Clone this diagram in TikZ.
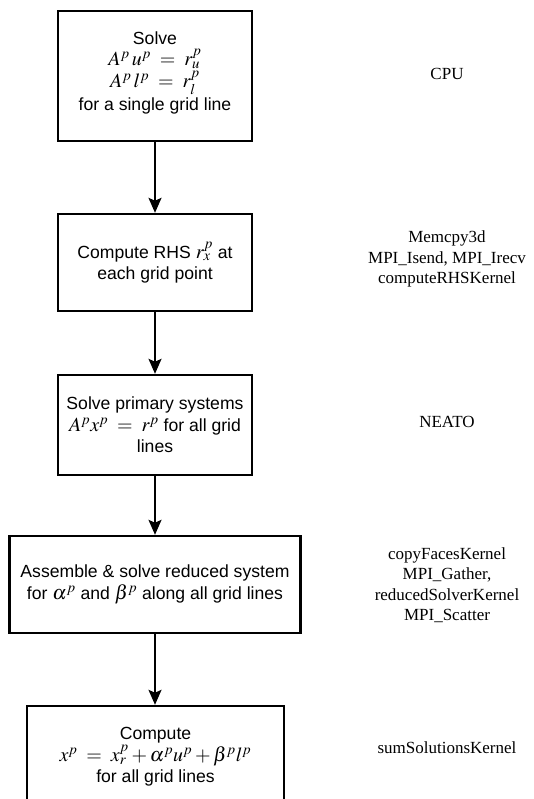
\documentclass[tikz,border=0pt]{standalone}
\usepackage{mathptmx}
\usepackage{fontspec}
\setmainfont{Liberation Sans}
\newfontfamily\kfont{Liberation Serif}
\usetikzlibrary{arrows.meta}
\newcommand{\eqn}[1]{{\fontsize{20}{22}\selectfont$#1$}}
\tikzstyle{stage}=[draw, line width=2.4pt, align=center, inner sep=0, font=\fontsize{17.6}{21.5}\selectfont]
\tikzstyle{kern}=[align=center, font=\kfont\fontsize{17}{20.5}\selectfont]
\tikzstyle{flow}=[line width=2pt, -{Stealth[length=15pt,width=13pt,inset=3pt]}]

\begin{document}
\begin{tikzpicture}[x=1pt, y=-1pt]
\useasboundingbox (0,0) rectangle (534,799);
\clip (0,0) rectangle (534,799);
% stages
\node[stage, minimum width=194pt, minimum height=130pt] (s1) at (155,76)
	{Solve\\[-1pt] \eqn{A^p\,u^p \;=\; r_u^p}\\[1pt] \eqn{A^p\,l^p \;=\; r_l^p}\\[1pt] for a single grid line\\[-12pt]};
\node[stage, minimum width=194pt, minimum height=97pt] (s2) at (155,262.5)
	{Compute RHS \eqn{r_x^p} at\\ each grid point};
\node[stage, minimum width=194pt, minimum height=100pt] (s3) at (155,425)
	{Solve primary systems\\ \eqn{A^p x^p \;=\; r^p} for all grid\\ lines};
\node[stage, minimum width=291pt, minimum height=97pt] (s4) at (155,584.5)
	{Assemble \& solve reduced system\\ for \eqn{\alpha^p} and \eqn{\beta^p} along all grid lines};
\node[stage, minimum width=257pt, minimum height=102pt] (s5) at (155.5,757)
	{Compute\\ \eqn{x^p \;=\; x_r^p + \alpha^p u^p + \beta^p l^p}\\ for all grid lines};
\foreach \a/\b in {1/2,2/3,3/4,4/5}
	\draw[flow] (s\a.south) -- (s\a.south |- s\b.north);
% where each stage runs
\node[kern] (k1) at (447,74) {CPU};
\node[kern] (k2) at (447,259) {Memcpy3d\\ MPI\_Isend, MPI\_Irecv\\ computeRHSKernel};
\node[kern] (k3) at (447,422) {NEATO};
\node[kern] (k4) at (447,585) {copyFacesKernel\\ MPI\_Gather,\\ reducedSolverKernel\\ MPI\_Scatter};
\node[kern] (k5) at (447,748) {sumSolutionsKernel};
\end{tikzpicture}
\end{document}
